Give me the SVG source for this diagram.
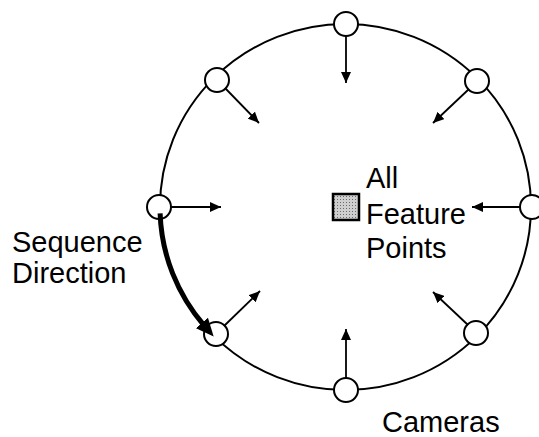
<svg xmlns="http://www.w3.org/2000/svg" width="539" height="437" viewBox="0 0 539 437">
<style>
.ring{fill:none;stroke:#000;stroke-width:2}
.cam{fill:#fff;stroke:#000;stroke-width:2}
.ray{stroke:#000;stroke-width:1.8;fill:none;marker-end:url(#ah)}
.seq{stroke:#000;stroke-width:5;fill:none;marker-end:url(#big)}
text{font-family:"Liberation Sans",Arial,Helvetica,sans-serif;font-size:29px;fill:#000}
</style>
<defs>
<marker id="ah" markerUnits="userSpaceOnUse" markerWidth="12" markerHeight="10" refX="11" refY="5" orient="auto">
<path d="M0,0 L11,5 L0,10 Z" fill="#000"/>
</marker>
<marker id="big" markerUnits="userSpaceOnUse" markerWidth="20" markerHeight="16" refX="4" refY="8" orient="auto">
<path d="M0,0 L18,8 L0,16 Z" fill="#000"/>
</marker>
<pattern id="dots" width="3" height="3" patternUnits="userSpaceOnUse">
<rect width="3" height="3" fill="#cfcfcf"/>
<rect x="1" y="1" width="1" height="1" fill="#6a6a6a"/>
</pattern>
</defs>
<ellipse class="ring" cx="345.5" cy="207" rx="185.5" ry="183"/>
<g id="cam-top"><circle class="cam" cx="346" cy="24" r="12"/></g>
<g id="cam-ur"><circle class="cam" cx="477" cy="81" r="12"/></g>
<g id="cam-right"><circle class="cam" cx="532" cy="207" r="12"/></g>
<g id="cam-lr"><circle class="cam" cx="476" cy="333" r="12"/></g>
<g id="cam-bottom"><circle class="cam" cx="346" cy="390" r="12"/></g>
<g id="cam-ll"><circle class="cam" cx="216" cy="334" r="12"/></g>
<g id="cam-left"><circle class="cam" cx="159" cy="207" r="12"/></g>
<g id="cam-ul"><circle class="cam" cx="217" cy="80" r="12"/></g>
<g id="connectors">
<line class="ray" x1="346" y1="36" x2="346" y2="83"/>
<line class="ray" x1="171" y1="207" x2="221" y2="207"/>
<line class="ray" x1="520" y1="207" x2="472" y2="207"/>
<line class="ray" x1="346" y1="378" x2="346" y2="329"/>
<line class="ray" x1="225" y1="88" x2="259" y2="123"/>
<line class="ray" x1="469" y1="89" x2="433" y2="123"/>
<line class="ray" x1="468" y1="325" x2="433" y2="292"/>
<line class="ray" x1="224" y1="326" x2="260" y2="291"/>
<path class="seq" d="M160.1,213.4 A185.5,183 0 0 0 204.5,326"/>
</g>
<g id="features">
<rect x="333" y="194" width="26" height="26" fill="url(#dots)" stroke="#000" stroke-width="2.5"/>
<text x="366" y="188">All</text>
<text x="366" y="224">Feature</text>
<text x="366" y="258">Points</text>
</g>
<g id="labels">
<text x="12" y="252">Sequence</text>
<text x="12" y="283">Direction</text>
<text x="382" y="432">Cameras</text>
</g>
</svg>
